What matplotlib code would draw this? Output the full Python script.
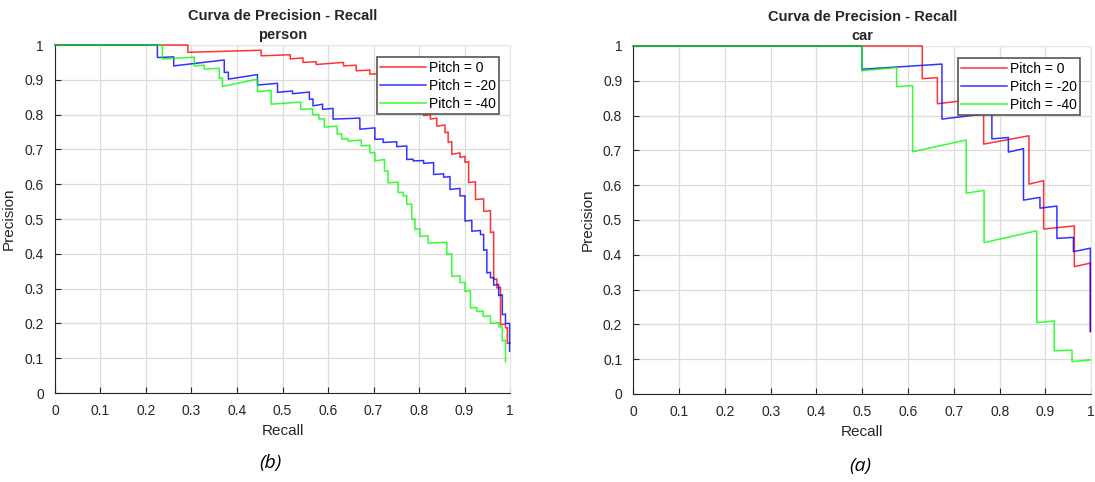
import matplotlib
matplotlib.use("Agg")
import matplotlib.pyplot as plt

plt.rcParams['font.family'] = ['Liberation Sans', 'DejaVu Sans']

# person curves (recall, precision)
person_red_r = [0, 0.292, 0.292, 0.453, 0.453, 0.517, 0.517, 0.545, 0.545, 0.574, 0.574, 0.634, 0.634,
                0.662, 0.662, 0.692, 0.692, 0.714, 0.714, 0.72, 0.72, 0.735, 0.735, 0.76, 0.76, 0.775, 0.775,
                0.787, 0.787, 0.81, 0.81, 0.825, 0.825, 0.839, 0.839, 0.857, 0.857, 0.864, 0.864, 0.872, 0.872,
                0.89, 0.89, 0.901, 0.901, 0.909, 0.909, 0.924, 0.924, 0.942, 0.942, 0.957, 0.957, 0.964, 0.964,
                0.971, 0.971, 0.979, 0.979, 0.99, 0.99, 0.994, 0.994, 1.0]
person_red_p = [1, 1, 0.979, 0.985, 0.969, 0.972, 0.96, 0.963, 0.95, 0.952, 0.944, 0.95, 0.94,
                0.942, 0.926, 0.928, 0.916, 0.918, 0.892, 0.893, 0.878, 0.88, 0.86, 0.862, 0.83, 0.832, 0.81,
                0.812, 0.806, 0.808, 0.797, 0.80, 0.787, 0.79, 0.767, 0.77, 0.748, 0.75, 0.72, 0.722, 0.686,
                0.69, 0.677, 0.68, 0.663, 0.665, 0.605, 0.607, 0.556, 0.558, 0.522, 0.524, 0.461, 0.463, 0.326,
                0.328, 0.302, 0.304, 0.196, 0.198, 0.187, 0.188, 0.143, 0.144]

person_blue_r = [0, 0.225, 0.225, 0.261, 0.261, 0.372, 0.372, 0.381, 0.381, 0.445, 0.445, 0.489, 0.489,
                 0.522, 0.522, 0.559, 0.559, 0.567, 0.567, 0.588, 0.588, 0.611, 0.611, 0.67, 0.67, 0.703, 0.703,
                 0.721, 0.721, 0.751, 0.751, 0.773, 0.773, 0.787, 0.787, 0.81, 0.81, 0.832, 0.832, 0.854, 0.854,
                 0.868, 0.868, 0.89, 0.89, 0.901, 0.901, 0.916, 0.916, 0.935, 0.935, 0.942, 0.942, 0.949, 0.949,
                 0.957, 0.957, 0.964, 0.964, 0.975, 0.975, 0.983, 0.983, 0.99, 0.99, 0.999, 0.999]
person_blue_p = [1, 1, 0.964, 0.966, 0.94, 0.957, 0.921, 0.922, 0.902, 0.915, 0.885, 0.89, 0.864,
                 0.868, 0.86, 0.865, 0.844, 0.845, 0.825, 0.83, 0.815, 0.818, 0.787, 0.79, 0.758, 0.762, 0.729,
                 0.73, 0.72, 0.722, 0.708, 0.71, 0.671, 0.672, 0.667, 0.668, 0.66, 0.662, 0.628, 0.63, 0.62,
                 0.622, 0.585, 0.588, 0.566, 0.567, 0.494, 0.496, 0.465, 0.467, 0.455, 0.456, 0.41, 0.412, 0.345,
                 0.347, 0.331, 0.332, 0.31, 0.312, 0.28, 0.282, 0.225, 0.227, 0.2, 0.2, 0.12]

person_green_r = [0, 0.236, 0.236, 0.306, 0.306, 0.328, 0.328, 0.361, 0.361, 0.368, 0.368, 0.445, 0.445,
                  0.475, 0.475, 0.54, 0.54, 0.566, 0.566, 0.58, 0.58, 0.592, 0.592, 0.62, 0.62, 0.63, 0.63,
                  0.644, 0.644, 0.673, 0.673, 0.692, 0.692, 0.703, 0.703, 0.724, 0.724, 0.732, 0.732, 0.754, 0.754,
                  0.765, 0.765, 0.773, 0.773, 0.784, 0.784, 0.791, 0.791, 0.802, 0.802, 0.82, 0.82, 0.861, 0.861,
                  0.872, 0.872, 0.89, 0.89, 0.901, 0.901, 0.913, 0.913, 0.927, 0.927, 0.941, 0.941, 0.957, 0.957,
                  0.975, 0.975, 0.983, 0.983, 0.99, 0.99]
person_green_p = [1, 1, 0.96, 0.965, 0.94, 0.942, 0.931, 0.933, 0.904, 0.905, 0.881, 0.902, 0.866,
                  0.87, 0.83, 0.836, 0.815, 0.817, 0.80, 0.80, 0.787, 0.788, 0.764, 0.767, 0.744, 0.745, 0.73,
                  0.731, 0.724, 0.727, 0.71, 0.712, 0.69, 0.691, 0.667, 0.671, 0.638, 0.638, 0.604, 0.606, 0.576,
                  0.577, 0.566, 0.567, 0.542, 0.543, 0.499, 0.5, 0.47, 0.472, 0.45, 0.452, 0.431, 0.433, 0.398,
                  0.40, 0.335, 0.337, 0.317, 0.318, 0.292, 0.294, 0.244, 0.246, 0.234, 0.236, 0.22, 0.222, 0.2,
                  0.202, 0.19, 0.19, 0.15, 0.152, 0.09]

# car curves
car_red_r = [0, 0.631, 0.631, 0.664, 0.664, 0.765, 0.765, 0.864, 0.864, 0.896, 0.896, 0.963, 0.963, 0.998, 0.998]
car_red_p = [1, 1, 0.906, 0.909, 0.834, 0.85, 0.718, 0.742, 0.603, 0.613, 0.474, 0.483, 0.366, 0.376, 0.179]

car_blue_r = [0, 0.499, 0.499, 0.674, 0.674, 0.783, 0.783, 0.819, 0.819, 0.852, 0.852, 0.888, 0.888,
              0.925, 0.925, 0.961, 0.961, 0.998, 0.998]
car_blue_p = [1, 1, 0.933, 0.948, 0.79, 0.807, 0.733, 0.737, 0.695, 0.705, 0.557, 0.565, 0.534,
              0.54, 0.447, 0.45, 0.409, 0.419, 0.18]

car_green_r = [0, 0.499, 0.499, 0.575, 0.575, 0.61, 0.61, 0.727, 0.727, 0.766, 0.766, 0.881, 0.881,
               0.919, 0.919, 0.958, 0.958, 0.998]
car_green_p = [1, 1, 0.929, 0.938, 0.883, 0.886, 0.696, 0.73, 0.577, 0.585, 0.435, 0.469, 0.205,
               0.21, 0.124, 0.126, 0.093, 0.098]

labels = ['Pitch = 0', 'Pitch = -20', 'Pitch = -40']
ticks = [0, 0.1, 0.2, 0.3, 0.4, 0.5, 0.6, 0.7, 0.8, 0.9, 1]
tick_labels = ['0', '0.1', '0.2', '0.3', '0.4', '0.5', '0.6', '0.7', '0.8', '0.9', '1']


def draw(ax, curves, name):
    colors = ['#ff0000', '#0000ff', '#00ff00']
    for (r, p), c, lab in zip(curves, colors, labels):
        ax.plot(r, p, color=c, lw=1.1, label=lab, alpha=0.8, clip_on=False, zorder=3)
    ax.set_xlim(0, 1)
    ax.set_ylim(0, 1)
    ax.set_xticks(ticks)
    ax.set_xticklabels(tick_labels)
    ax.set_yticks(ticks)
    ax.set_yticklabels(tick_labels)
    ax.tick_params(direction='in', length=4, labelsize=10, colors='#262626', pad=8)
    ax.grid(True, color='#dcdcdc', lw=0.9)
    ax.set_axisbelow(True)
    for s in ['left', 'bottom']:
        ax.spines[s].set_color('#262626')
    for s in ['top', 'right']:
        ax.spines[s].set_color('#e6e6e6')
    ax.set_xlabel('Recall', fontsize=11, color='#262626', labelpad=4)
    ax.set_ylabel('Precision', fontsize=11, color='#262626', labelpad=6)
    ax.set_title('Curva de Precision - Recall\n' + name, fontsize=10.5,
                 fontweight='bold', color='#262626', pad=4, linespacing=1.5)
    leg = ax.legend(loc='upper right', bbox_to_anchor=(0.976, 0.965), fontsize=10,
                    fancybox=False, framealpha=1, edgecolor='#555555',
                    handlelength=3.3, borderpad=0.25, labelspacing=0.3, handletextpad=0.2,
                    borderaxespad=0)
    leg.get_frame().set_linewidth(1.2)
    leg.set_zorder(5)


fig = plt.figure(figsize=(10.95, 4.82), dpi=100)
ax1 = fig.add_axes([0.0502, 0.1846, 0.4156, 0.722])
ax2 = fig.add_axes([0.5783, 0.1826, 0.4183, 0.722])

draw(ax1, [(person_red_r, person_red_p), (person_blue_r, person_blue_p),
           (person_green_r, person_green_p)], 'person')
draw(ax2, [(car_red_r, car_red_p), (car_blue_r, car_blue_p),
           (car_green_r, car_green_p)], 'car')

fig.text(0.2466, 1 - 463 / 482, '(b)', fontsize=14, style='italic', ha='center', va='center',
         family=['Open Sans', 'DejaVu Sans'])
fig.text(0.7854, 1 - 466 / 482, '(a)', fontsize=14, style='italic', ha='center', va='center',
         family=['Open Sans', 'DejaVu Sans'])

fig.savefig('out.png', dpi=100)
